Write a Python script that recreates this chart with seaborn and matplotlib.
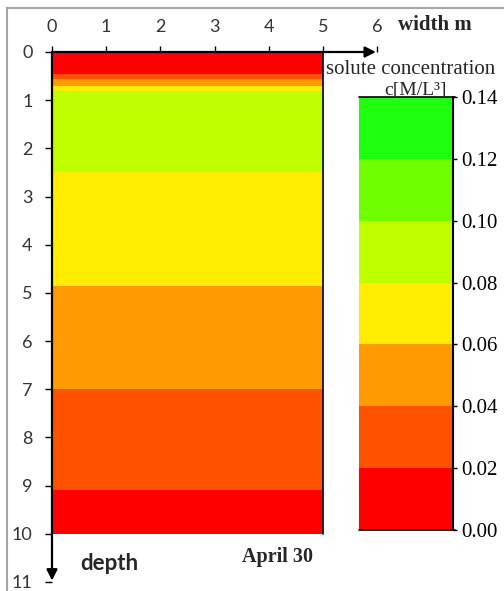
import numpy as np
import matplotlib
matplotlib.use("Agg")
import matplotlib.pyplot as plt
from matplotlib.lines import Line2D
from matplotlib.patches import Rectangle
import seaborn as sns

# Concentration profile c(depth), the same across the 5 m width
depth_m = [0.0, 0.45, 0.55, 0.70, 0.80, 1.50, 2.50, 4.85, 7.00, 9.10, 10.0]
conc = [0.005, 0.02, 0.04, 0.06, 0.08, 0.09, 0.08, 0.06, 0.04, 0.02, 0.01]
width_m = [0.0, 5.0]

# Concentration classes and their fill colours
levels = [0.00, 0.02, 0.04, 0.06, 0.08, 0.10, 0.12, 0.14]
band_colors = ["#FF0000", "#FF5200", "#FF9A00", "#FFEC00",
               "#BFFF00", "#70FF00", "#1EFF10"]

x_ticks = [0, 1, 2, 3, 4, 5, 6]
y_ticks = [0, 1, 2, 3, 4, 5, 6, 7, 8, 9, 10, 11]

sns.set_theme(style="white")
plt.rcParams["font.family"] = ["Lato", "DejaVu Sans"]

W, H = 504, 591
fig = plt.figure(figsize=(W / 100, H / 100), dpi=100)


def fx(px):
    return px / W


def fy(py):
    return 1 - py / H


# Main cross-section axes: x 0..6 m, depth 0..11 m
ax = fig.add_axes([fx(52), fy(582), fx(377) - fx(52), fy(52) - fy(582)])
Z = np.tile(np.asarray(conc)[:, None], (1, len(width_m)))
cs = ax.contourf(width_m, depth_m, Z, levels=levels, colors=band_colors)
ax.set_xlim(0, 6)
ax.set_ylim(11, 0)
for s in ax.spines.values():
    s.set_visible(False)

ax.xaxis.set_ticks_position("top")
ax.set_xticks(x_ticks)
ax.set_yticks(y_ticks)
ax.tick_params(axis="x", which="both", top=True, bottom=False, direction="out",
               length=4, width=1, color="black", pad=8, labelsize=13,
               labelcolor="#333333")
ax.tick_params(axis="y", which="both", left=True, direction="out",
               length=5, width=1, color="black", pad=9, labelsize=13,
               labelcolor="#333333")
ax.grid(False)

# Axis arrows
ax.annotate("", xy=(5.98, 0), xytext=(0, 0),
            arrowprops=dict(arrowstyle="-|>", color="black", lw=1.6,
                            mutation_scale=16, shrinkA=0, shrinkB=0),
            annotation_clip=False)
ax.annotate("", xy=(0, 10.97), xytext=(0, 0),
            arrowprops=dict(arrowstyle="-|>", color="black", lw=1.6,
                            mutation_scale=16, shrinkA=0, shrinkB=0),
            annotation_clip=False)
# Right edge of the domain
ax.plot([5, 5], [0, 10], color="black", lw=1.2)

# Colour scale
cax = fig.add_axes([fx(359), fy(530), fx(453) - fx(359), fy(97) - fy(530)])
cbar = fig.colorbar(cs, cax=cax, ticks=levels)
cbar.outline.set_visible(False)
cax.set_yticklabels([f"{v:.2f}" for v in levels])
cax.tick_params(axis="y", length=3, width=1, color="black", pad=3,
                labelsize=15)
for lab in cax.get_yticklabels():
    lab.set_family("Liberation Serif")
    lab.set_color("black")
cax.add_line(Line2D([1, 1], [0, 1], transform=cax.transAxes, color="black",
                    lw=1.5, clip_on=False))
cax.add_line(Line2D([0, 1.02], [1, 1], transform=cax.transAxes, color="black",
                    lw=1.2, clip_on=False))
cax.add_line(Line2D([0, 1.02], [0, 0], transform=cax.transAxes, color="black",
                    lw=1.2, clip_on=False))

# Labels
fig.text(fx(398), fy(25), "width m", family="Liberation Serif",
         weight="bold", fontsize=15, ha="left", va="center")
fig.text(fx(326), fy(70), "solute concentration", family="Liberation Serif",
         fontsize=15, ha="left", va="center")
fig.text(fx(447), fy(90), "c[M/L³]", family="Liberation Serif",
         fontsize=14, ha="right", va="center")
fig.text(fx(80), fy(563), "depth", family=["Lato", "DejaVu Sans"],
         weight="bold", fontsize=16, ha="left", va="center")
fig.text(fx(278), fy(557), "April 30", family="Liberation Serif",
         weight="bold", fontsize=14.5, ha="center", va="center")

# Chart frame
fig.patches.append(Rectangle((fx(7), -0.1), 1.2, fy(8) + 0.1,
                             transform=fig.transFigure, fill=False,
                             edgecolor="#A6A6A6", lw=1.5))

fig.savefig("out.png", dpi=100)
